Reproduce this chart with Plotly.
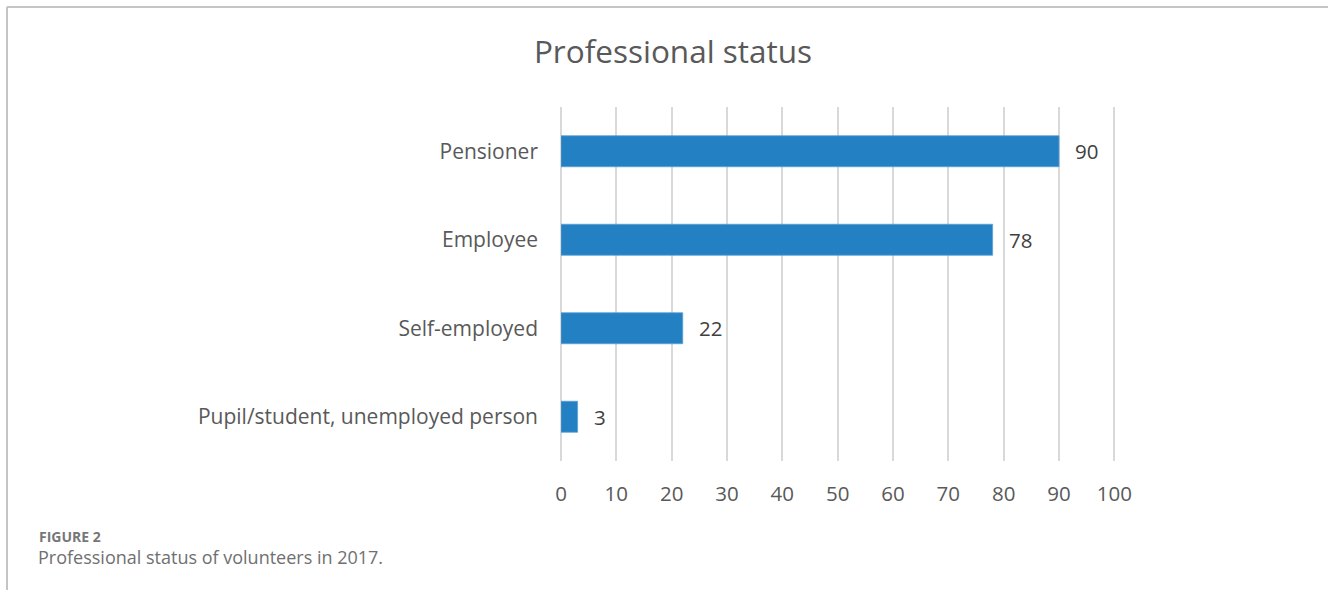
import plotly.graph_objects as go

# Professional status of volunteers, 2017
categories = ["Pensioner", "Employee", "Self-employed", "Pupil/student, unemployed person"]
counts = [90, 78, 22, 3]
x_ticks = [0, 10, 20, 30, 40, 50, 60, 70, 80, 90, 100]

FONT = "Open Sans, Lato, sans-serif"
TEXT_GREY = "#595959"
GRID_GREY = "#d9d9d9"
BAR_BLUE = "#2280c3"

fig = go.Figure()
fig.add_trace(go.Bar(
    y=categories,
    x=counts,
    orientation="h",
    width=0.35,
    marker=dict(color=BAR_BLUE, line=dict(color="#5aa0d6", width=0.8)),
    hoverinfo="skip",
))

# Value labels placed just past the end of each bar
for cat, val in zip(categories, counts):
    fig.add_annotation(
        x=val, y=cat, text=str(val), showarrow=False,
        xanchor="left", xshift=14,
        font=dict(family=FONT, size=20.5, color="#404040"),
    )

# Caption below the chart
fig.add_annotation(
    xref="paper", yref="paper", x=-524 / 555, y=-75 / 354,
    xanchor="left", yanchor="middle", showarrow=False,
    text="<b>FIGURE 2</b>",
    font=dict(family=FONT, size=14, color="#777777"),
)
fig.add_annotation(
    xref="paper", yref="paper", x=-525 / 555, y=-96 / 354,
    xanchor="left", yanchor="middle", showarrow=False,
    text="Professional status of volunteers in 2017.",
    font=dict(family=FONT, size=18, color="#707070"),
)

# Thin frame lines along the top and left edge of the page
fig.add_shape(type="line", xref="paper", yref="paper",
              x0=-554 / 555, x1=1 + 212 / 555, y0=1 + 100 / 354, y1=1 + 100 / 354,
              line=dict(color="#c4c4c4", width=2))
fig.add_shape(type="line", xref="paper", yref="paper",
              x0=-554 / 555, x1=-554 / 555, y0=1 + 100 / 354, y1=-129 / 354,
              line=dict(color="#c4c4c4", width=2))

fig.update_layout(
    width=1328, height=590,
    margin=dict(l=561, r=212, t=107, b=129),
    paper_bgcolor="white", plot_bgcolor="white",
    showlegend=False,
    title=dict(
        text="Professional status",
        x=673 / 1328, xanchor="center",
        y=1 - 52 / 590, yanchor="middle",
        font=dict(family=FONT, size=31.5, color=TEXT_GREY),
    ),
    xaxis=dict(
        range=[0, 100.3],
        tickvals=x_ticks,
        ticktext=[str(t) for t in x_ticks],
        showgrid=True, gridcolor=GRID_GREY, gridwidth=2,
        zeroline=True, zerolinecolor=GRID_GREY, zerolinewidth=2,
        showline=False, ticks="",
        ticklabelstandoff=18,
        tickfont=dict(family=FONT, size=20.5, color=TEXT_GREY),
        fixedrange=True,
    ),
    yaxis=dict(
        categoryorder="array",
        categoryarray=categories[::-1],
        range=[-0.5, 3.5],
        showgrid=False, zeroline=False, showline=False, ticks="",
        ticklabelstandoff=22,
        tickfont=dict(family=FONT, size=21, color=TEXT_GREY),
        fixedrange=True,
    ),
)

fig.write_html("out.html")
